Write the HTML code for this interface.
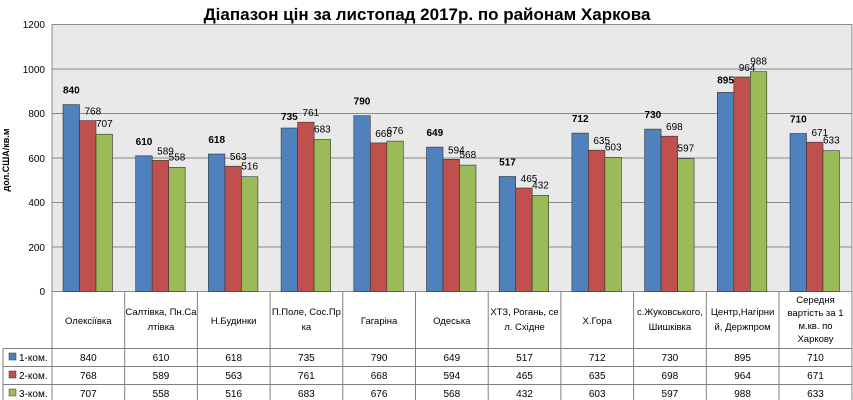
<!DOCTYPE html>
<html><head><meta charset="utf-8"><style>
body{margin:0;background:#fff}
svg{display:block;font-family:"Liberation Sans","DejaVu Sans",sans-serif}
</style></head><body>
<svg width="853" height="400" viewBox="0 0 853 400" xmlns="http://www.w3.org/2000/svg">
<rect x="0" y="0" width="853" height="400" fill="#fff"/>
<text x="427" y="20" text-anchor="middle" font-size="17" font-weight="bold" fill="#000">Діапазон цін за листопад 2017р. по районам Харкова</text>
<rect x="52" y="24.5" width="800" height="267" fill="#e9e9e9" stroke="#8c8c8c" stroke-width="1"/>
<g stroke="#8a8a8a" stroke-width="1">
<line x1="52" y1="69" x2="852" y2="69"/><line x1="52" y1="113.5" x2="852" y2="113.5"/><line x1="52" y1="158" x2="852" y2="158"/><line x1="52" y1="202.5" x2="852" y2="202.5"/><line x1="52" y1="247" x2="852" y2="247"/>
</g>
<g font-size="10" fill="#000" text-anchor="end">
<text x="45" y="28">1200</text><text x="45" y="73">1000</text><text x="45" y="117">800</text><text x="45" y="162">600</text><text x="45" y="206">400</text><text x="45" y="251">200</text><text x="45" y="295">0</text>
</g>
<text transform="translate(9,160) rotate(-90)" text-anchor="middle" font-size="9" font-weight="bold">дол.США/кв.м</text>
<g stroke-width="0.6" stroke="#333">
<g fill="#4f81bd">
<rect x="63" y="104.6" width="16.5" height="186.9"/><rect x="135.7" y="155.8" width="16.5" height="135.7"/><rect x="208.4" y="154" width="16.5" height="137.5"/><rect x="281.1" y="128" width="16.5" height="163.5"/><rect x="353.8" y="115.7" width="16.5" height="175.8"/><rect x="426.5" y="147.1" width="16.5" height="144.4"/><rect x="499.2" y="176.5" width="16.5" height="115"/><rect x="571.9" y="133.1" width="16.5" height="158.4"/><rect x="644.6" y="129.1" width="16.5" height="162.4"/><rect x="717.3" y="92.4" width="16.5" height="199.1"/><rect x="790" y="133.5" width="16.5" height="158"/>
</g>
<g fill="#c0504d">
<rect x="79.5" y="120.6" width="16.5" height="170.9"/><rect x="152.2" y="160.4" width="16.5" height="131.1"/><rect x="224.9" y="166.2" width="16.5" height="125.3"/><rect x="297.6" y="122.2" width="16.5" height="169.3"/><rect x="370.3" y="142.9" width="16.5" height="148.6"/><rect x="443" y="159.3" width="16.5" height="132.2"/><rect x="515.7" y="188" width="16.5" height="103.5"/><rect x="588.4" y="150.2" width="16.5" height="141.3"/><rect x="661.1" y="136.2" width="16.5" height="155.3"/><rect x="733.8" y="77" width="16.5" height="214.5"/><rect x="806.5" y="142.2" width="16.5" height="149.3"/>
</g>
<g fill="#9bbb59">
<rect x="96" y="134.2" width="16.5" height="157.3"/><rect x="168.7" y="167.3" width="16.5" height="124.2"/><rect x="241.4" y="176.7" width="16.5" height="114.8"/><rect x="314.1" y="139.5" width="16.5" height="152"/><rect x="386.8" y="141.1" width="16.5" height="150.4"/><rect x="459.5" y="165.1" width="16.5" height="126.4"/><rect x="532.2" y="195.4" width="16.5" height="96.1"/><rect x="604.9" y="157.3" width="16.5" height="134.2"/><rect x="677.6" y="158.7" width="16.5" height="132.8"/><rect x="750.3" y="71.7" width="16.5" height="219.8"/><rect x="823" y="150.7" width="16.5" height="140.8"/>
</g>
</g>
<g font-size="10" text-anchor="middle" fill="#000">
<g font-weight="bold">
<text x="71.3" y="93.6">840</text><text x="144" y="144.8">610</text><text x="216.7" y="143">618</text><text x="289.4" y="120">735</text><text x="362" y="104.7">790</text><text x="434.8" y="136.1">649</text><text x="507.5" y="165.5">517</text><text x="580.2" y="122.1">712</text><text x="652.9" y="118.1">730</text><text x="725.6" y="83.4">895</text><text x="798.3" y="122.5">710</text>
</g>
<text x="92.8" y="114.6">768</text><text x="165.5" y="154.4">589</text><text x="238.2" y="160.2">563</text><text x="310.9" y="116.2">761</text><text x="383.6" y="136.9">668</text><text x="456.3" y="153.3">594</text><text x="529" y="182">465</text><text x="601.7" y="144.2">635</text><text x="674.4" y="130.2">698</text><text x="747.1" y="71">964</text><text x="819.8" y="136.2">671</text>
<text x="104.3" y="127.2">707</text><text x="177" y="160.3">558</text><text x="249.7" y="169.7">516</text><text x="322.4" y="132.5">683</text><text x="395" y="134.1">676</text><text x="467.8" y="158.1">568</text><text x="540.5" y="188.4">432</text><text x="613.2" y="150.3">603</text><text x="685.9" y="151.7">597</text><text x="758.6" y="64.7">988</text><text x="831.3" y="143.7">633</text>
</g>
<g stroke="#7f7f7f" stroke-width="1">
<line x1="3" y1="348.5" x2="852" y2="348.5"/><line x1="3" y1="366.5" x2="852" y2="366.5"/><line x1="3" y1="384.5" x2="852" y2="384.5"/>
<line x1="3" y1="348.5" x2="3" y2="400"/>
<line x1="52" y1="291" x2="52" y2="400"/><line x1="124.7" y1="291" x2="124.7" y2="400"/><line x1="197.4" y1="291" x2="197.4" y2="400"/><line x1="270.1" y1="291" x2="270.1" y2="400"/><line x1="342.8" y1="291" x2="342.8" y2="400"/><line x1="415.5" y1="291" x2="415.5" y2="400"/><line x1="488.2" y1="291" x2="488.2" y2="400"/><line x1="560.9" y1="291" x2="560.9" y2="400"/><line x1="633.6" y1="291" x2="633.6" y2="400"/><line x1="706.3" y1="291" x2="706.3" y2="400"/><line x1="779" y1="291" x2="779" y2="400"/><line x1="852" y1="291" x2="852" y2="400"/>
</g>
<g font-size="9.5" text-anchor="middle" fill="#000">
<text x="88.3" y="324">Олексіївка</text>
<text x="161" y="315">Салтівка, Пн.Са</text><text x="161" y="330">лтівка</text>
<text x="233.7" y="324">Н.Будинки</text>
<text x="306.4" y="315">П.Поле, Сос.Пр</text><text x="306.4" y="330">ка</text>
<text x="379.1" y="324">Гагаріна</text>
<text x="451.8" y="324">Одеська</text>
<text x="524.5" y="315">ХТЗ, Рогань, се</text><text x="524.5" y="330">л. Східне</text>
<text x="597.2" y="324">Х.Гора</text>
<text x="669.9" y="315">с.Жуковського,</text><text x="669.9" y="330">Шишківка</text>
<text x="742.6" y="315">Центр,Нагірни</text><text x="742.6" y="330">й, Держпром</text>
<text x="815.5" y="303">Середня</text><text x="815.5" y="316">вартість за 1</text><text x="815.5" y="329">м.кв. по</text><text x="815.5" y="342">Харкову</text>
</g>
<rect x="9" y="353" width="7" height="7" fill="#4f81bd" stroke="#333" stroke-width="0.5"/>
<rect x="9" y="371" width="7" height="7" fill="#c0504d" stroke="#333" stroke-width="0.5"/>
<rect x="9" y="389" width="7" height="7" fill="#9bbb59" stroke="#333" stroke-width="0.5"/>
<g font-size="10" fill="#000">
<text x="19" y="361">1-ком.</text><text x="19" y="379">2-ком.</text><text x="19" y="397">3-ком.</text>
</g>
<g font-size="10" text-anchor="middle" fill="#000">
<text x="88.3" y="361">840</text><text x="161" y="361">610</text><text x="233.7" y="361">618</text><text x="306.4" y="361">735</text><text x="379.1" y="361">790</text><text x="451.8" y="361">649</text><text x="524.5" y="361">517</text><text x="597.2" y="361">712</text><text x="669.9" y="361">730</text><text x="742.6" y="361">895</text><text x="815.5" y="361">710</text>
<text x="88.3" y="379">768</text><text x="161" y="379">589</text><text x="233.7" y="379">563</text><text x="306.4" y="379">761</text><text x="379.1" y="379">668</text><text x="451.8" y="379">594</text><text x="524.5" y="379">465</text><text x="597.2" y="379">635</text><text x="669.9" y="379">698</text><text x="742.6" y="379">964</text><text x="815.5" y="379">671</text>
<text x="88.3" y="397">707</text><text x="161" y="397">558</text><text x="233.7" y="397">516</text><text x="306.4" y="397">683</text><text x="379.1" y="397">676</text><text x="451.8" y="397">568</text><text x="524.5" y="397">432</text><text x="597.2" y="397">603</text><text x="669.9" y="397">597</text><text x="742.6" y="397">988</text><text x="815.5" y="397">633</text>
</g>
</svg>
</body></html>
